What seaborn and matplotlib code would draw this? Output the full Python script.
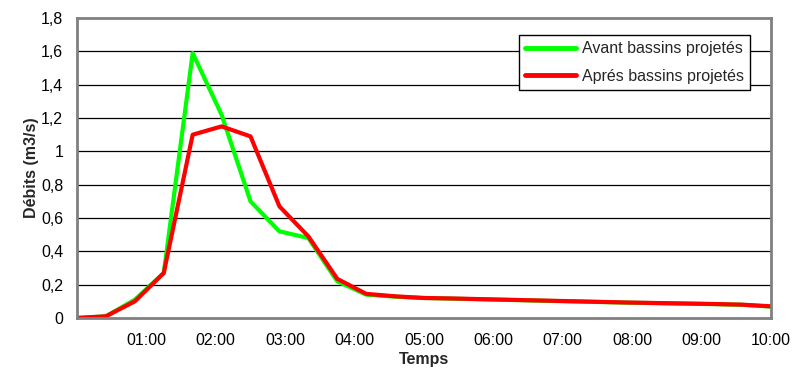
import matplotlib
matplotlib.use("Agg")
import matplotlib.pyplot as plt
import matplotlib.ticker as mticker
import seaborn as sns
import pandas as pd

# Time in minutes (step 25 min)
minutes = [0, 25, 50, 75, 100, 125, 150, 175, 200, 225, 250, 275, 300,
           325, 350, 375, 400, 425, 450, 475, 500, 525, 550, 575, 600]
avant = [0.0, 0.01, 0.11, 0.27, 1.59, 1.22, 0.70, 0.52, 0.48, 0.22, 0.14, 0.128, 0.12,
         0.116, 0.112, 0.108, 0.104, 0.10, 0.096, 0.092, 0.089, 0.086, 0.083, 0.079, 0.068]
apres = [0.0, 0.01, 0.10, 0.27, 1.10, 1.15, 1.09, 0.67, 0.49, 0.235, 0.145, 0.13, 0.12,
         0.117, 0.113, 0.109, 0.105, 0.101, 0.097, 0.093, 0.09, 0.087, 0.084, 0.08, 0.07]
series_names = ["Avant bassins projetés", "Aprés bassins projetés"]
yticks = [0, 0.2, 0.4, 0.6, 0.8, 1.0, 1.2, 1.4, 1.6, 1.8]
xticks = [60, 120, 180, 240, 300, 360, 420, 480, 540, 600]

df = pd.concat([
    pd.DataFrame({"t": minutes, "q": avant, "serie": series_names[0]}),
    pd.DataFrame({"t": minutes, "q": apres, "serie": series_names[1]}),
])

sns.set_style("white")
plt.rcParams["font.family"] = ["Liberation Sans", "DejaVu Sans"]

fig = plt.figure(figsize=(7.94, 3.73), dpi=100)
ax = fig.add_axes([0.097, 0.1475, 0.874, 0.804])

sns.lineplot(data=df, x="t", y="q", hue="serie", hue_order=series_names,
             palette=["#00FF00", "#FF0000"], linewidth=3.0, ax=ax, legend=True)

ax.set_xlim(0, 600)
ax.set_ylim(0, 1.8)
ax.set_yticks(yticks)
ax.set_xticks([0] + xticks)

def fmt_y(v, pos):
    s = ("%.1f" % v).rstrip("0").rstrip(".")
    return s.replace(".", ",")

def fmt_x(v, pos):
    if v == 0:
        return ""
    h = int(v // 60)
    m = int(v % 60)
    return "%02d:%02d" % (h, m)

ax.yaxis.set_major_formatter(mticker.FuncFormatter(fmt_y))
ax.xaxis.set_major_formatter(mticker.FuncFormatter(fmt_x))

for y in yticks[1:-1]:
    ax.axhline(y, color="black", linewidth=0.9, zorder=0.5)

for s in ax.spines.values():
    s.set_visible(True)
    s.set_color("#808080")
    s.set_linewidth(2)

ax.tick_params(axis="both", which="major", direction="out", length=4, width=1,
               color="#333333", labelsize=11.5, labelcolor="black")
ax.tick_params(axis="y", pad=6)
ax.tick_params(axis="x", pad=7)

ax.set_xlabel("Temps", fontsize=11.5, fontweight="bold", labelpad=3)
ax.set_ylabel("Débits (m3/s)", fontsize=11.5, fontweight="bold", labelpad=1)

leg = ax.legend(loc="upper right", bbox_to_anchor=(0.97, 0.943), fontsize=11.5,
                frameon=True, fancybox=False, shadow=False, edgecolor="black",
                handlelength=3.2, borderpad=0.38, labelspacing=0.8, handletextpad=0.35,
                borderaxespad=0)
leg.get_frame().set_linewidth(1)
leg.get_frame().set_facecolor("white")
leg.get_frame().set_alpha(1)
for line in leg.get_lines():
    line.set_linewidth(3.5)

fig.savefig("out.png", dpi=100)
